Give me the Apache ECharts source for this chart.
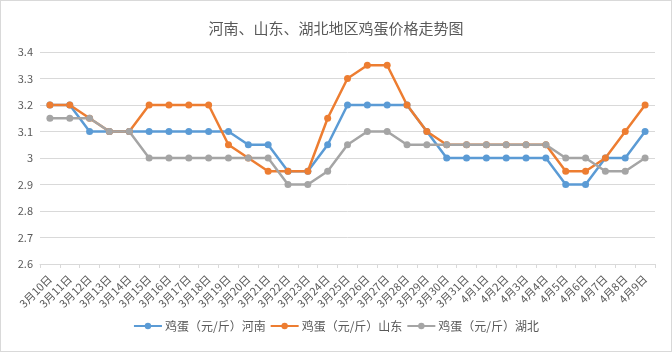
<!DOCTYPE html>
<html>
<head>
<meta charset="utf-8">
<script src="https://cdn.jsdelivr.net/npm/echarts@6/dist/echarts.min.js"></script>
<style>
  html, body { margin: 0; padding: 0; background: #fff; }
  #chart { width: 670px; height: 350px; border: 1px solid #d9d9d9; }
</style>
</head>
<body>
<div id="chart"></div>
<script>
// 日期
var dates = ['3月10日', '3月11日', '3月12日', '3月13日', '3月14日', '3月15日', '3月16日', '3月17日',
  '3月18日', '3月19日', '3月20日', '3月21日', '3月22日', '3月23日', '3月24日', '3月25日', '3月26日',
  '3月27日', '3月28日', '3月29日', '3月30日', '3月31日', '4月1日', '4月2日', '4月3日', '4月4日',
  '4月5日', '4月6日', '4月7日', '4月8日', '4月9日']

var henan = [3.2, 3.2, 3.1, 3.1, 3.1, 3.1, 3.1, 3.1, 3.1, 3.1, 3.05, 3.05, 2.95, 2.95, 3.05, 3.2,
  3.2, 3.2, 3.2, 3.1, 3.0, 3.0, 3.0, 3.0, 3.0, 3.0, 2.9, 2.9, 3.0, 3.0, 3.1]
var shandong = [3.2, 3.2, 3.15, 3.1, 3.1, 3.2, 3.2, 3.2, 3.2, 3.05, 3.0, 2.95, 2.95, 2.95, 3.15, 3.3,
  3.35, 3.35, 3.2, 3.1, 3.05, 3.05, 3.05, 3.05, 3.05, 3.05, 2.95, 2.95, 3.0, 3.1, 3.2]
var hubei = [3.15, 3.15, 3.15, 3.1, 3.1, 3.0, 3.0, 3.0, 3.0, 3.0, 3.0, 3.0, 2.9, 2.9, 2.95, 3.05,
  3.1, 3.1, 3.05, 3.05, 3.05, 3.05, 3.05, 3.05, 3.05, 3.05, 3.0, 3.0, 2.95, 2.95, 3.0]

var seriesNames = ['鸡蛋（元/斤）河南', '鸡蛋（元/斤）山东', '鸡蛋（元/斤）湖北']
var colors = ['#5b9bd5', '#ed7d31', '#a5a5a5']

var textColor = '#595959'
var fontFamily = '"Noto Sans CJK SC", "Noto Sans", sans-serif'

function makeSeries(name, data, color) {
  return {
    name: name,
    type: 'line',
    data: data,
    symbol: 'circle',
    symbolSize: 7,
    color: color,
    lineStyle: { width: 2.5, color: color },
    itemStyle: { color: color }
  }
}

var chart = echarts.init(document.getElementById('chart'))
chart.setOption({
  backgroundColor: '#fff',
  animation: false,
  textStyle: { fontFamily: fontFamily },
  title: {
    text: '河南、山东、湖北地区鸡蛋价格走势图',
    left: 'center',
    top: 15,
    textStyle: { fontSize: 15, fontWeight: 'normal', color: textColor, fontFamily: fontFamily }
  },
  grid: {
    left: 39,
    right: 16,
    top: 51,
    bottom: 87
  },
  legend: {
    data: seriesNames,
    bottom: 14,
    left: 'center',
    itemWidth: 28,
    itemHeight: 8,
    itemGap: 4,
    textStyle: { fontSize: 12, color: textColor, padding: [0, 0, 0, -2] }
  },
  xAxis: {
    type: 'category',
    data: dates,
    boundaryGap: true,
    axisLine: { lineStyle: { color: '#d9d9d9', width: 1 } },
    axisTick: { show: true, alignWithLabel: false, length: 4, lineStyle: { color: '#d9d9d9' } },
    axisLabel: { interval: 0, rotate: 45, fontSize: 11, color: textColor, margin: 13 }
  },
  yAxis: {
    type: 'value',
    min: 2.6,
    max: 3.4,
    interval: 0.1,
    axisLine: { show: false },
    axisTick: { show: false },
    axisLabel: {
      fontSize: 11,
      color: textColor,
      margin: 7,
      formatter: function(v) { return String(Math.round(v * 10) / 10) }
    },
    splitLine: { lineStyle: { color: '#d9d9d9', width: 1 } }
  },
  series: [
    makeSeries(seriesNames[0], henan, colors[0]),
    makeSeries(seriesNames[1], shandong, colors[1]),
    makeSeries(seriesNames[2], hubei, colors[2])
  ]
})
</script>
</body>
</html>
